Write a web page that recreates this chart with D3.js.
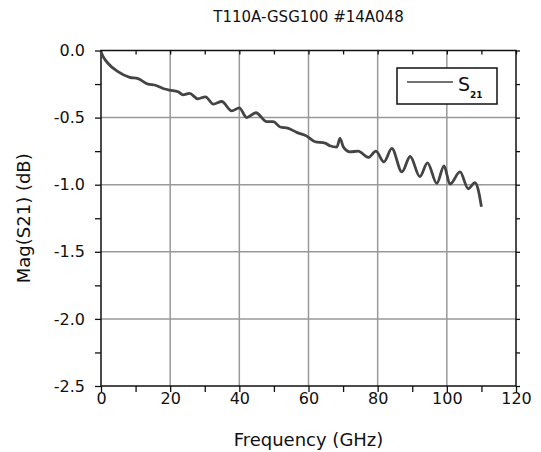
<!DOCTYPE html>
<html>
<head>
<meta charset="utf-8">
<script src="https://cdn.jsdelivr.net/npm/d3@7"></script>
<style>
  body { margin: 0; background: #fff; }
  text { font-family: "DejaVu Sans", Verdana, sans-serif; fill: #111; }
</style>
</head>
<body>
<div id="chart"></div>
<script>
// values
var freq = [0, 0.5, 2, 4.9, 8.3, 10.7, 13.6, 15.5, 18.4, 19.9, 22.3, 23.7, 25.6, 28, 30.2,
  32.5, 34.9, 37.8, 40, 42.1, 44.8, 47.9, 49.8, 51.8, 54.2, 56.6, 59.5, 61.9, 64.8, 66.2,
  68.2, 69.1, 70.1, 72, 74.4, 77.3, 79.5, 81.8, 84.1, 87, 89.4, 92.2, 94.4, 97.1, 99.2,
  100.9, 103.8, 106.2, 108.1, 109.1, 110];
var s21 = [-0.01, -0.04, -0.095, -0.158, -0.2, -0.21, -0.25, -0.257, -0.287, -0.295, -0.307,
  -0.33, -0.32, -0.36, -0.345, -0.40, -0.38, -0.45, -0.427, -0.5, -0.464, -0.53, -0.53,
  -0.57, -0.58, -0.61, -0.638, -0.68, -0.69, -0.71, -0.72, -0.655, -0.72, -0.755, -0.75,
  -0.797, -0.75, -0.83, -0.73, -0.905, -0.79, -0.94, -0.837, -0.99, -0.86, -0.996, -0.905,
  -1.03, -0.985, -1.04, -1.165];
var xTicks = [0, 20, 40, 60, 80, 100, 120];
var yTicks = [0, -0.5, -1.0, -1.5, -2.0, -2.5];
var xMinor = d3.range(0, 121, 10);
var yMinor = d3.range(0, -2.51, -0.25);

var width = 541, height = 452;
var pLeft = 101, pRight = 516, pTop = 50.5, pBottom = 386;

var svg = d3.select('#chart').append('svg')
  .attr('width', width).attr('height', height);

var x = d3.scaleLinear().domain([0, 120]).range([pLeft, pRight]);
var y = d3.scaleLinear().domain([-2.5, 0]).range([pBottom, pTop]);

// grid
svg.append('g').selectAll('line').data(xTicks.slice(1, -1)).enter().append('line')
  .attr('x1', d => x(d)).attr('x2', d => x(d)).attr('y1', pTop).attr('y2', pBottom)
  .attr('stroke', '#999').attr('stroke-width', 1.5);
svg.append('g').selectAll('line').data(yTicks.slice(1, -1)).enter().append('line')
  .attr('y1', d => y(d)).attr('y2', d => y(d)).attr('x1', pLeft).attr('x2', pRight)
  .attr('stroke', '#999').attr('stroke-width', 1.5);

// axes
var fmtY = d => d3.format('.1f')(d).replace('\u2212', '-');
var xAxis = svg.append('g').attr('transform', 'translate(0,' + pBottom + ')')
  .call(d3.axisBottom(x).tickValues(xMinor).tickSize(6).tickPadding(0)
    .tickFormat(d => xTicks.indexOf(d) >= 0 ? d : ''));
var yAxis = svg.append('g').attr('transform', 'translate(' + pLeft + ',0)')
  .call(d3.axisLeft(y).tickValues(yMinor).tickSize(6).tickPadding(10)
    .tickFormat(d => yTicks.indexOf(d) >= 0 ? fmtY(d) : ''));
var xTop = svg.append('g').attr('transform', 'translate(0,' + pTop + ')')
  .call(d3.axisBottom(x).tickValues(xMinor).tickSize(4).tickFormat(''));
var yRight = svg.append('g').attr('transform', 'translate(' + pRight + ',0)')
  .call(d3.axisRight(y).tickValues(yMinor).tickSize(4).tickFormat(''));

[xAxis, yAxis, xTop, yRight].forEach(function(g) {
  g.select('.domain').remove();
  g.selectAll('.tick line').attr('stroke', '#111').attr('stroke-width', 1.3);
  g.selectAll('text').style('font-family', '"DejaVu Sans", Verdana, sans-serif')
    .style('font-size', '16px').attr('fill', '#111');
});
xAxis.selectAll('text').attr('dy', '0.72em');

// frame
svg.append('rect').attr('x', pLeft).attr('y', pTop)
  .attr('width', pRight - pLeft).attr('height', pBottom - pTop)
  .attr('fill', 'none').attr('stroke', '#111').attr('stroke-width', 1.5);

// data line
var line = d3.line()
  .x((d, i) => x(freq[i]))
  .y(d => y(d))
  .curve(d3.curveMonotoneX);
svg.append('path').datum(s21)
  .attr('d', line)
  .attr('fill', 'none').attr('stroke', '#444').attr('stroke-width', 2.8)
  .attr('stroke-linejoin', 'round');

// legend
svg.append('rect').attr('x', 397).attr('y', 68).attr('width', 100).attr('height', 36)
  .attr('fill', '#fff').attr('stroke', '#111').attr('stroke-width', 1.5);
svg.append('line').attr('x1', 407).attr('x2', 453).attr('y1', 82).attr('y2', 82)
  .attr('stroke', '#444').attr('stroke-width', 1.5);
var lt = svg.append('text').attr('x', 458).attr('y', 91).style('font-size', '19px');
lt.append('tspan').text('S');
lt.append('tspan').attr('dy', 7).style('font-size', '9px').style('font-weight', 'bold').text('21');

// title and labels
svg.append('text').attr('x', (pLeft + pRight) / 2).attr('y', 22)
  .attr('text-anchor', 'middle').style('font-size', '15px')
  .text('T110A-GSG100 #14A048');
svg.append('text').attr('x', (pLeft + pRight) / 2).attr('y', 446)
  .attr('text-anchor', 'middle').style('font-size', '18px')
  .text('Frequency (GHz)');
svg.append('text')
  .attr('transform', 'translate(30,' + (pTop + pBottom) / 2 + ') rotate(-90)')
  .attr('text-anchor', 'middle').style('font-size', '18px')
  .text('Mag(S21) (dB)');
</script>
</body>
</html>
